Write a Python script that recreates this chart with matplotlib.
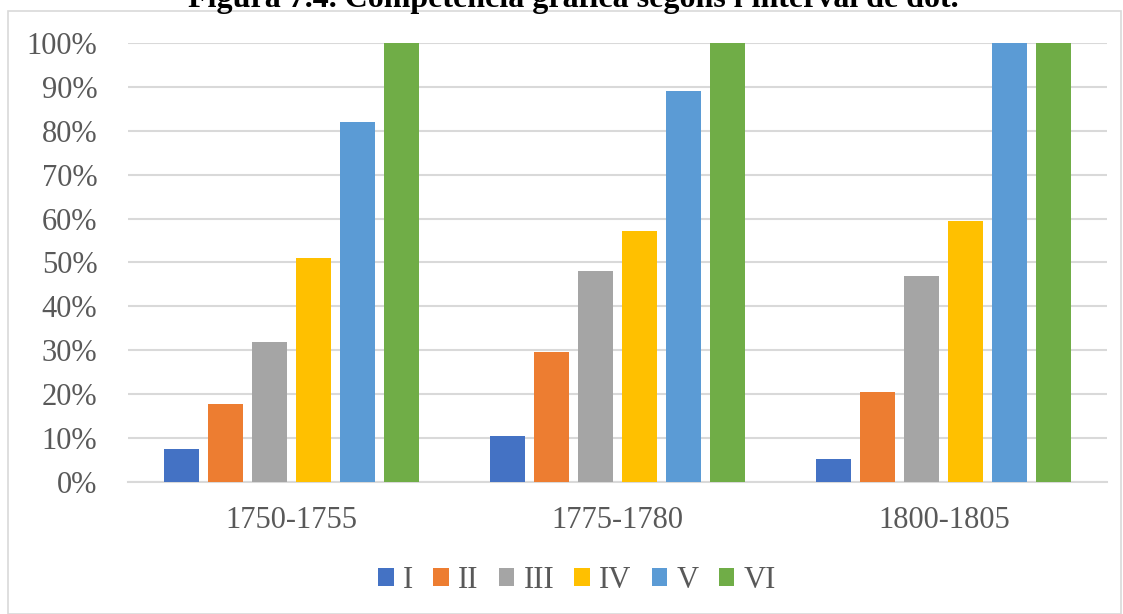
import numpy as np
import matplotlib.pyplot as plt
from matplotlib.patches import Rectangle
from matplotlib.ticker import PercentFormatter

# dades
intervals = ['1750-1755', '1775-1780', '1800-1805']
nivells = ['I', 'II', 'III', 'IV', 'V', 'VI']
valors = {
    'I':   [7.6, 10.5, 5.3],
    'II':  [17.8, 29.5, 20.4],
    'III': [31.9, 48.0, 47.0],
    'IV':  [51.1, 57.2, 59.4],
    'V':   [81.9, 89.0, 100.0],
    'VI':  [100.0, 100.0, 100.0],
}
colors = ['#4472C4', '#ED7D31', '#A5A5A5', '#FFC000', '#5B9BD5', '#70AD47']
titol = "Figura 7.4. Competència gràfica segons l'interval de dot."

plt.rcParams['font.family'] = ['Liberation Serif', 'DejaVu Serif']

fig = plt.figure(figsize=(11.23, 6.14), dpi=100)
ax = fig.add_axes([0.114, 0.215, 0.8717, 0.715])

x = np.arange(len(intervals))
pas = 0.135
amplada = 0.107
for i, (niv, c) in enumerate(zip(nivells, colors)):
    ax.bar(x + (i - 2.5) * pas, valors[niv], amplada, color=c, label=niv, zorder=3)

ax.set_xlim(-0.5, 2.5)
ax.set_ylim(0, 100)
ax.set_yticks(np.arange(0, 101, 10))
ax.yaxis.set_major_formatter(PercentFormatter(decimals=0))
ax.set_xticks(x)
ax.set_xticklabels(intervals)
ax.grid(axis='y', color='#d9d9d9', linewidth=1.5, zorder=0)
ax.set_axisbelow(True)
for s in ['top', 'right', 'left']:
    ax.spines[s].set_visible(False)
ax.spines['bottom'].set_color('#d9d9d9')
ax.spines['bottom'].set_linewidth(1.5)
ax.tick_params(axis='both', length=0, labelsize=22, colors='#595959')
ax.tick_params(axis='x', pad=17)
ax.tick_params(axis='y', pad=22)

leg = fig.legend(loc='center', bbox_to_anchor=(577 / 1123, 1 - 580 / 614), ncol=6,
                 frameon=False, fontsize=22, handlelength=0.52, handleheight=0.52,
                 handletextpad=0.3, columnspacing=0.65)
for t in leg.get_texts():
    t.set_color('#595959')

# marc del gràfic
fig.patches.append(Rectangle((8 / 1123, 0), 1113 / 1123, 1 - 11 / 614,
                             transform=fig.transFigure, fill=False,
                             edgecolor='#d9d9d9', linewidth=1.2))

fig.text(573 / 1123, 1 - 7 / 614, titol, ha='center', va='baseline',
         fontsize=23, fontweight='bold')

fig.savefig('out.png', dpi=100)
